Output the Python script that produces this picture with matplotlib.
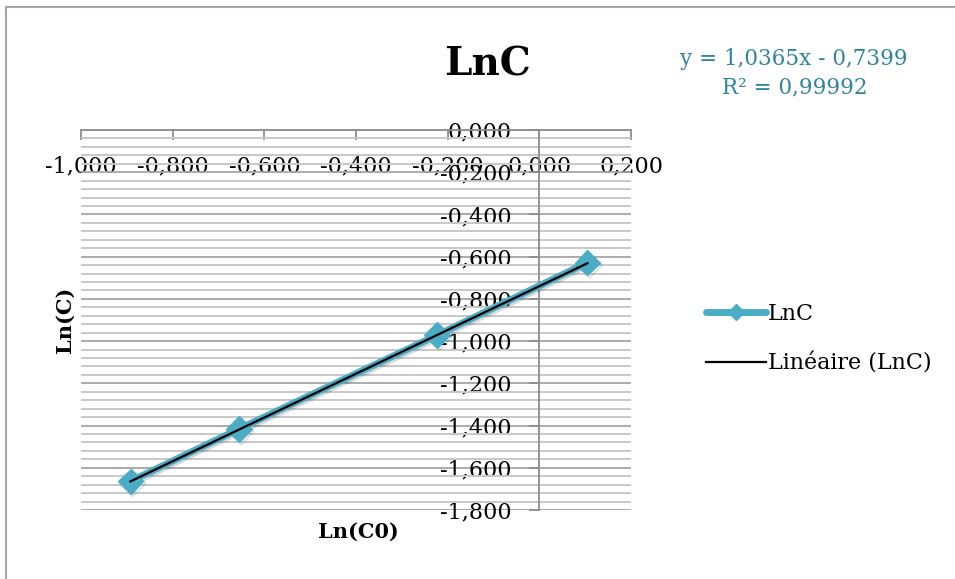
import numpy as np
import matplotlib
matplotlib.use("Agg")
import matplotlib.pyplot as plt
import matplotlib.patheffects as pe
from matplotlib.ticker import FixedLocator, MultipleLocator, FuncFormatter
from matplotlib.lines import Line2D

# donnees
ln_c0 = [-0.892, -0.655, -0.223, 0.105]
ln_c = [-1.664, -1.416, -0.972, -0.628]
slope = 1.0365
intercept = -0.7399
r2_text = "0,99992"

x_ticks = [-1.0, -0.8, -0.6, -0.4, -0.2, 0.0, 0.2]
y_ticks = [0.0, -0.2, -0.4, -0.6, -0.8, -1.0, -1.2, -1.4, -1.6, -1.8]

TEAL = "#4BACC6"
EQ_COLOR = "#31859C"
W, H = 955, 579
plt.rcParams['font.family'] = ['DejaVu Serif']


def fx(px):
    return px / W


def fy(py):
    return 1 - py / H


def fmt(v, pos=None):
    s = f"{v:.3f}".replace('.', ',')
    if s == "-0,000":
        s = "0,000"
    return s


fig = plt.figure(figsize=(W / 100, H / 100), dpi=100)

# cadre du graphique
fig.add_artist(Line2D([fx(6), fx(6)], [fy(7), 0], color="#A6A6A6", lw=1.5))
fig.add_artist(Line2D([fx(6), 1], [fy(7), fy(7)], color="#A6A6A6", lw=1.5))

ax = fig.add_axes([fx(81), fy(510), (631 - 81) / W, (510 - 130) / H])
ax.set_xlim(-1.0, 0.2)
ax.set_ylim(-1.8, 0.0)

# quadrillage horizontal
ax.yaxis.set_major_locator(FixedLocator(y_ticks))
ax.yaxis.set_minor_locator(MultipleLocator(0.04))
ax.xaxis.set_major_locator(FixedLocator(x_ticks))
ax.grid(axis='y', which='major', color="#A5A5A5", lw=1.3)
ax.grid(axis='y', which='minor', color="#C8C8C8", lw=1.4)
ax.set_axisbelow(True)

# axes qui se croisent en zero
for side in ['top', 'right']:
    ax.spines[side].set_visible(False)
ax.spines['bottom'].set_position(('data', 0))
ax.spines['left'].set_position(('data', 0))
for side in ['bottom', 'left']:
    ax.spines[side].set_color("#8C8C8C")
    ax.spines[side].set_linewidth(1.3)
ax.tick_params(which='major', direction='out', length=7, width=1.3,
               color="#8C8C8C", labelsize=16)
ax.tick_params(axis='x', pad=11)
ax.tick_params(axis='y', pad=13)
ax.tick_params(which='minor', length=0)
ax.xaxis.set_major_formatter(FuncFormatter(fmt))
ax.yaxis.set_major_formatter(FuncFormatter(fmt))

# serie et courbe de tendance
shadow = [pe.SimpleLineShadow(offset=(1, -1.5), shadow_color='k', alpha=0.15), pe.Normal()]
series, = ax.plot(ln_c0, ln_c, color=TEAL, lw=5, marker='D', markersize=13,
                  solid_capstyle='round', label="LnC", path_effects=shadow,
                  zorder=3, clip_on=False)
trend_x = np.array([ln_c0[0], ln_c0[-1]])
trend, = ax.plot(trend_x, slope * trend_x + intercept, color='black', lw=1.6,
                 label="Linéaire (LnC)", zorder=4)

# legende avec un petit losange
leg_series = Line2D([], [], color=TEAL, lw=5, marker='D', markersize=8,
                    solid_capstyle='round')
leg = fig.legend(handles=[leg_series, trend], labels=["LnC", "Linéaire (LnC)"],
                 loc='center left', bbox_to_anchor=(fx(686), fy(339)),
                 frameon=False, fontsize=16, handlelength=2.7,
                 handletextpad=0.1, labelspacing=1.25, numpoints=1)

# titres
fig.text(fx(487), fy(65), "LnC", ha='center', va='center', fontsize=28, fontweight='bold')
fig.text(fx(358), fy(532), "Ln(C0)", ha='center', va='center', fontsize=15, fontweight='bold')
fig.text(fx(65), fy(320), "Ln(C)", ha='center', va='center', fontsize=15,
         fontweight='bold', rotation=90)

eq = f"y = {slope:.4f}x - {abs(intercept):.4f}".replace('.', ',')
fig.text(fx(794), fy(59), eq, ha='center', va='center', fontsize=15.5, color=EQ_COLOR)
fig.text(fx(795), fy(87), "R² = " + r2_text, ha='center', va='center',
         fontsize=15.5, color=EQ_COLOR)

fig.savefig("out.png", dpi=100)
